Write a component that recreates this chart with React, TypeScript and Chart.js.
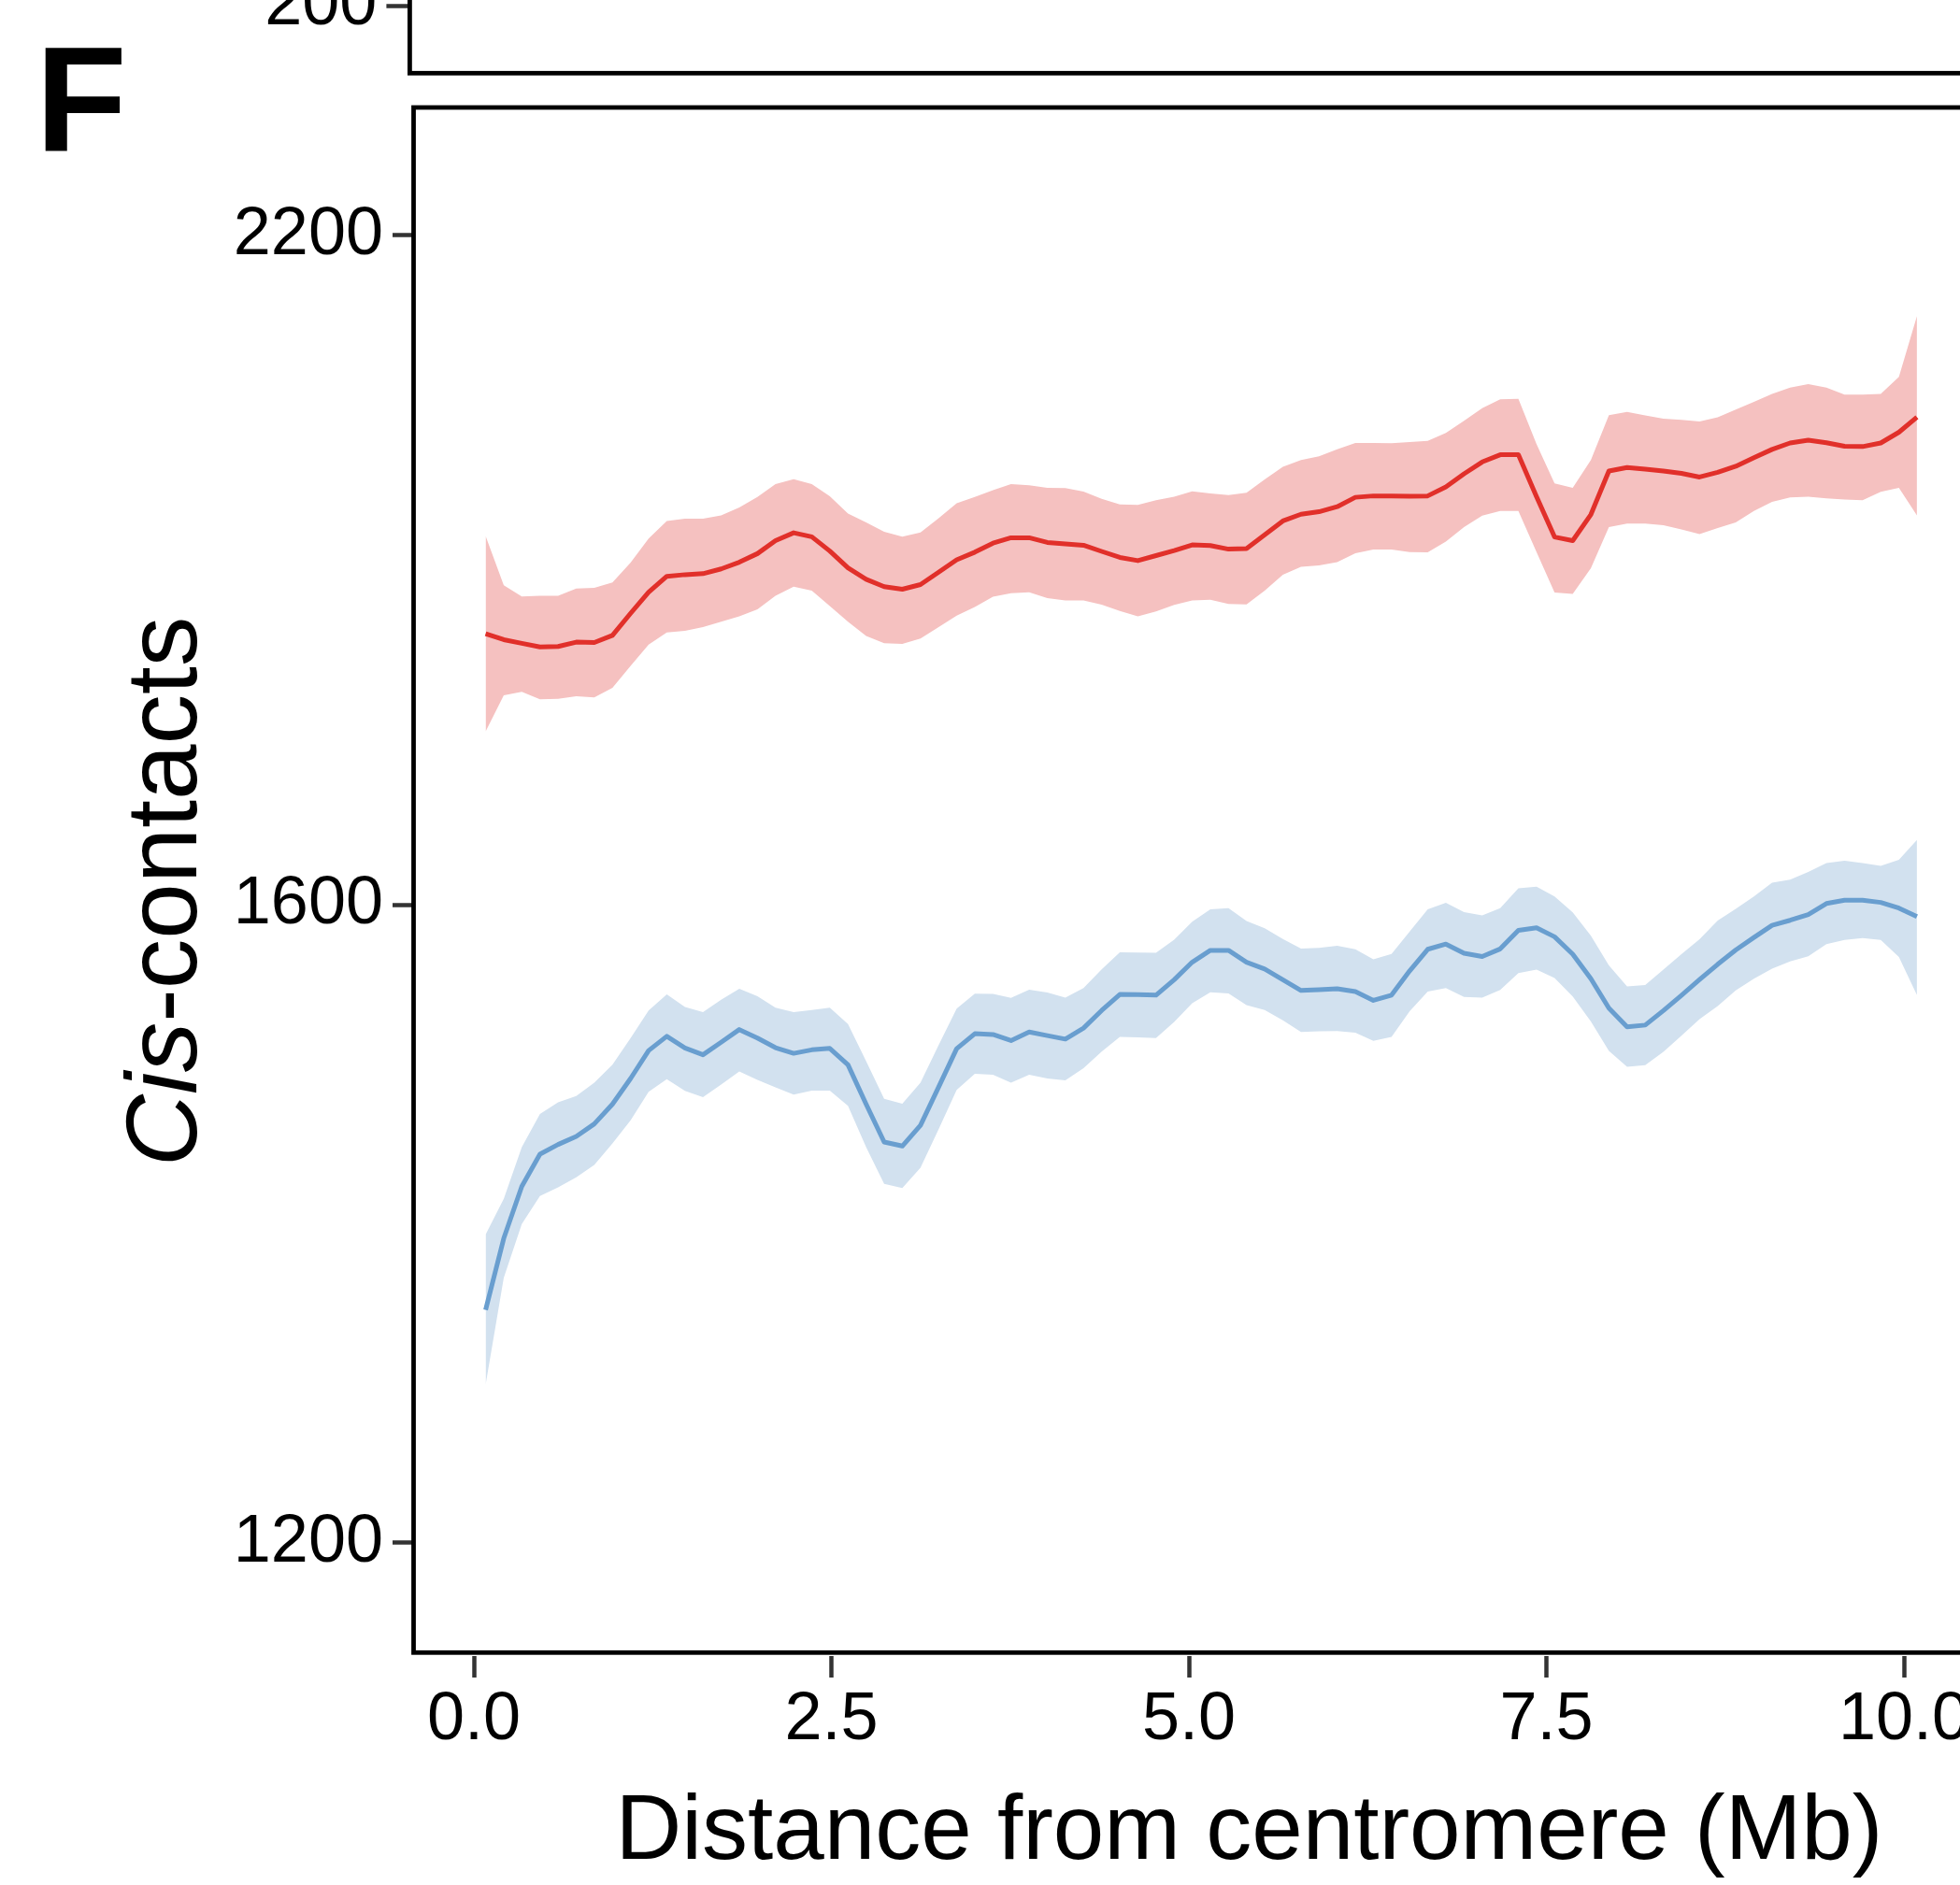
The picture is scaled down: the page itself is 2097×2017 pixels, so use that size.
import React, { useEffect, useRef } from 'react';
import { Chart, registerables, LinearScale } from 'chart.js';

Chart.register(...registerables);

// y axis of the reference is compressed towards the top: log10(v - 237)
const SHIFT = 237;
class ShiftedLogScale extends LinearScale {
  static id = 'shiftedLog';
  static defaults = {};
  tf(v: number) { return Math.log10(v - SHIFT); }
  getPixelForValue(value: number) {
    if (value === null || value === undefined || Number.isNaN(value)) return NaN;
    const a = this.tf(this.min);
    const b = this.tf(this.max);
    return this.getPixelForDecimal((this.tf(value) - a) / (b - a));
  }
  getValueForPixel(pixel: number) {
    const a = this.tf(this.min);
    const b = this.tf(this.max);
    return SHIFT + Math.pow(10, a + this.getDecimalForPixel(pixel) * (b - a));
  }
}
Chart.register(ShiftedLogScale as any);

const FONT = '"Liberation Sans", Arial, Helvetica, sans-serif';

const X_TICKS = [0, 2.5, 5, 7.5, 10];
const Y_TICKS = [1200, 1600, 2200];
const TOP_Y_TICKS = [200];

// bin positions (Mb from centromere)
const distance = [
  0.082, 0.209, 0.335, 0.462, 0.589, 0.716, 0.842, 0.969, 1.096, 1.222,
  1.349, 1.476, 1.602, 1.729, 1.856, 1.983, 2.109, 2.236, 2.363, 2.489,
  2.616, 2.743, 2.869, 2.996, 3.123, 3.250, 3.376, 3.503, 3.630, 3.756,
  3.883, 4.010, 4.136, 4.263, 4.390, 4.517, 4.643, 4.770, 4.897, 5.023,
  5.150, 5.277, 5.403, 5.530, 5.657, 5.784, 5.910, 6.037, 6.164, 6.290,
  6.417, 6.544, 6.670, 6.797, 6.924, 7.051, 7.177, 7.304, 7.431, 7.557,
  7.684, 7.811, 7.937, 8.064, 8.191, 8.318, 8.444, 8.571, 8.698, 8.824,
  8.951, 9.078, 9.204, 9.331, 9.458, 9.585, 9.711, 9.838, 9.965, 10.091,
];

const redMean = [
  1817.1, 1811.9, 1808.8, 1805.7, 1806.1, 1809.8, 1809.5, 1815.6, 1834.7, 1853.2,
  1867.2, 1868.7, 1869.6, 1873.8, 1879.8, 1887.5, 1899.2, 1906.3, 1902.7, 1889.8,
  1874.7, 1864.6, 1858.0, 1855.8, 1859.9, 1870.9, 1882.0, 1888.8, 1896.9, 1901.8,
  1901.8, 1897.6, 1896.3, 1895.0, 1889.5, 1884.1, 1881.2, 1885.7, 1890.2, 1895.3,
  1894.7, 1891.5, 1892.1, 1904.4, 1917.1, 1923.3, 1925.6, 1930.2, 1938.9, 1940.2,
  1940.2, 1939.9, 1940.2, 1948.5, 1960.8, 1972.0, 1978.8, 1978.8, 1939.5, 1902.5,
  1899.2, 1923.0, 1963.5, 1966.8, 1965.2, 1963.5, 1961.2, 1957.8, 1962.2, 1967.9,
  1976.1, 1983.9, 1990.0, 1992.7, 1990.3, 1986.9, 1986.6, 1990.0, 2000.3, 2014.8,
];
const redUpper = [
  1903.4, 1859.2, 1849.4, 1850.1, 1850.1, 1856.4, 1857.0, 1861.8, 1879.4, 1901.1,
  1917.1, 1919.3, 1919.3, 1922.3, 1929.6, 1939.2, 1951.2, 1955.8, 1951.2, 1939.9,
  1923.9, 1915.7, 1907.3, 1902.7, 1906.6, 1919.6, 1933.3, 1939.2, 1945.5, 1951.2,
  1950.2, 1947.8, 1947.5, 1944.2, 1937.5, 1932.3, 1931.9, 1936.2, 1939.5, 1944.5,
  1942.5, 1940.9, 1943.2, 1955.5, 1967.3, 1973.7, 1977.4, 1983.9, 1990.0, 1990.0,
  1989.7, 1991.0, 1992.1, 1999.6, 2011.3, 2023.5, 2032.2, 2032.6, 1989.0, 1951.8,
  1947.8, 1973.7, 2016.8, 2020.0, 2016.5, 2013.4, 2012.3, 2010.6, 2014.8, 2022.1,
  2029.8, 2037.4, 2043.7, 2047.2, 2043.7, 2036.7, 2036.7, 2037.4, 2054.3, 2115.5,
];
const redLower = [
  1735.0, 1765.0, 1767.8, 1761.7, 1762.0, 1764.2, 1763.2, 1771.1, 1789.6, 1807.6,
  1818.1, 1819.6, 1822.7, 1827.4, 1832.0, 1838.2, 1850.1, 1858.0, 1854.5, 1841.0,
  1827.4, 1815.0, 1808.8, 1808.2, 1812.8, 1822.7, 1832.6, 1840.3, 1849.1, 1852.3,
  1853.2, 1847.9, 1846.0, 1846.0, 1842.2, 1836.7, 1832.0, 1836.4, 1842.0, 1846.0,
  1846.6, 1842.8, 1842.5, 1854.5, 1868.7, 1875.7, 1877.0, 1879.9, 1887.9, 1891.1,
  1891.1, 1888.9, 1888.6, 1898.3, 1911.6, 1922.0, 1926.3, 1926.3, 1888.9, 1852.9,
  1851.7, 1874.4, 1911.6, 1914.8, 1914.8, 1913.2, 1909.3, 1905.1, 1910.6, 1915.8,
  1926.3, 1934.6, 1938.9, 1939.5, 1937.9, 1936.9, 1936.2, 1943.9, 1947.8, 1922.3,
];

const blueMean = [
  1330.2, 1373.7, 1406.3, 1427.0, 1433.3, 1438.6, 1446.8, 1459.9, 1477.1, 1496.1,
  1505.9, 1497.9, 1493.2, 1501.8, 1510.6, 1504.7, 1498.1, 1494.2, 1496.6, 1497.6,
  1486.4, 1459.9, 1434.9, 1432.3, 1445.9, 1471.4, 1497.4, 1507.7, 1507.2, 1503.0,
  1508.9, 1506.4, 1504.0, 1511.6, 1523.9, 1535.2, 1535.0, 1534.7, 1545.6, 1558.2,
  1566.7, 1566.7, 1558.2, 1553.3, 1545.6, 1538.0, 1538.5, 1539.2, 1537.2, 1531.0,
  1534.7, 1552.0, 1567.5, 1571.3, 1564.6, 1562.3, 1567.8, 1581.3, 1583.2, 1576.6,
  1564.0, 1546.4, 1525.5, 1512.5, 1513.7, 1523.8, 1534.5, 1545.7, 1556.7, 1567.0,
  1576.1, 1585.0, 1588.7, 1592.9, 1601.1, 1603.5, 1603.5, 1601.9, 1597.7, 1591.4,
];
const blueUpper = [
  1376.0, 1398.4, 1431.6, 1453.4, 1461.1, 1465.4, 1474.2, 1486.4, 1504.7, 1523.9,
  1535.2, 1526.4, 1522.7, 1531.4, 1539.2, 1533.9, 1525.9, 1522.7, 1524.2, 1525.9,
  1514.5, 1488.8, 1463.5, 1460.1, 1474.2, 1499.8, 1525.2, 1535.7, 1535.5, 1532.7,
  1538.5, 1536.5, 1533.0, 1539.7, 1553.1, 1565.4, 1565.2, 1564.9, 1574.4, 1587.6,
  1596.8, 1597.6, 1588.1, 1582.8, 1575.0, 1568.0, 1568.5, 1570.0, 1567.5, 1560.3,
  1564.1, 1580.5, 1596.8, 1601.6, 1594.7, 1592.3, 1597.7, 1612.5, 1613.6, 1606.4,
  1594.6, 1577.4, 1555.9, 1540.8, 1541.8, 1552.8, 1564.0, 1574.8, 1588.5, 1597.2,
  1606.4, 1616.6, 1619.0, 1624.7, 1631.5, 1633.2, 1631.5, 1629.4, 1634.0, 1649.2,
];
const blueLower = [
  1286.5, 1349.6, 1382.6, 1400.2, 1405.7, 1412.1, 1420.0, 1434.0, 1449.1, 1468.2,
  1476.6, 1468.7, 1464.6, 1473.0, 1481.9, 1476.1, 1471.1, 1466.3, 1469.0, 1469.0,
  1458.7, 1431.6, 1407.9, 1405.2, 1418.2, 1443.3, 1469.4, 1480.2, 1479.7, 1474.2,
  1479.7, 1477.1, 1475.9, 1484.0, 1495.4, 1505.5, 1505.2, 1504.7, 1515.9, 1528.9,
  1536.7, 1535.9, 1527.7, 1524.2, 1517.1, 1508.9, 1509.4, 1509.6, 1508.4, 1502.8,
  1505.5, 1523.4, 1537.2, 1539.7, 1533.5, 1533.0, 1538.3, 1550.3, 1552.8, 1546.9,
  1533.8, 1516.2, 1495.8, 1485.0, 1486.2, 1495.3, 1506.3, 1517.9, 1527.0, 1538.1,
  1546.4, 1553.6, 1558.8, 1562.4, 1571.2, 1574.3, 1575.6, 1574.3, 1561.9, 1534.7,
];

const RED = '#E1302A';
const RED_BAND = '#F5C1C0';
const BLUE = '#699ECF';
const BLUE_BAND = '#D2E1EF';
const TICK_COLOR = '#333333';

const pts = (ys: number[]) => distance.map((x, i) => ({ x, y: ys[i] }));

const framePlugin = {
  id: 'frame',
  afterDraw(chart: any) {
    const { ctx, chartArea } = chart;
    ctx.save();
    ctx.strokeStyle = '#000';
    ctx.lineWidth = 4.8;
    ctx.strokeRect(chartArea.left, chartArea.top, chartArea.right - chartArea.left, chartArea.bottom - chartArea.top);
    ctx.restore();
  },
};

const annotationPlugin = {
  id: 'annot',
  afterDraw(chart: any) {
    const { ctx } = chart;
    ctx.save();
    ctx.fillStyle = '#000';
    // panel letter
    ctx.font = `bold 160px ${FONT}`;
    ctx.textBaseline = 'alphabetic';
    ctx.textAlign = 'left';
    ctx.fillText('F', 38, 161);
    // y title with italic "Cis"
    const fi = `italic 107px ${FONT}`;
    const fr = `107px ${FONT}`;
    ctx.font = fi;
    const w1 = ctx.measureText('Cis').width;
    ctx.font = fr;
    const w2 = ctx.measureText('-contacts').width;
    ctx.translate(210, 954);
    ctx.rotate(-Math.PI / 2);
    const start = -(w1 + w2) / 2;
    ctx.font = fi;
    ctx.fillText('Cis', start, 0);
    ctx.font = fr;
    ctx.fillText('-contacts', start + w1, 0);
    ctx.restore();
  },
};

export default function App() {
  const mainRef = useRef<HTMLCanvasElement>(null);
  const topRef = useRef<HTMLCanvasElement>(null);

  useEffect(() => {
    const band = { pointRadius: 0, borderColor: 'rgba(0,0,0,0)', borderWidth: 1, tension: 0, order: 2 };
    const line = { pointRadius: 0, borderWidth: 5, tension: 0, fill: false, order: 0, borderJoinStyle: 'round' as const };
    const main = new Chart(mainRef.current!, {
      type: 'line',
      data: {
        datasets: [
          { ...band, label: 'red upper', data: pts(redUpper), fill: '+1', backgroundColor: RED_BAND },
          { ...band, label: 'red lower', data: pts(redLower), fill: false },
          { ...band, label: 'blue upper', data: pts(blueUpper), fill: '+1', backgroundColor: BLUE_BAND },
          { ...band, label: 'blue lower', data: pts(blueLower), fill: false },
          { ...line, label: 'red', data: pts(redMean), borderColor: RED },
          { ...line, label: 'blue', data: pts(blueMean), borderColor: BLUE },
        ] as any,
      },
      options: {
        responsive: false,
        animation: false,
        devicePixelRatio: 1,
        layout: { padding: { left: 0, top: 115, right: 29.5, bottom: 0 } },
        plugins: { legend: { display: false }, tooltip: { enabled: false } },
        scales: {
          x: {
            type: 'linear',
            min: -0.4216,
            max: 11.2647,
            afterBuildTicks: (s: any) => { s.ticks = X_TICKS.map((v) => ({ value: v })); },
            afterFit: (s: any) => { s.height = 248.7; },
            ticks: {
              autoSkip: false, maxRotation: 0, minRotation: 0, padding: 2.5,
              color: '#000', font: { family: FONT, size: 72 },
              callback: (v: any) => Number(v).toFixed(1),
            },
            grid: { display: true, drawOnChartArea: false, drawTicks: true, tickLength: 26.7, tickColor: TICK_COLOR, tickWidth: 4.5 },
            border: { display: true, width: 8, color: 'rgba(0,0,0,0)' },
            title: {
              display: true, text: 'Distance from centromere (Mb)', color: '#000',
              font: { family: FONT, size: 98 }, padding: { top: 0, bottom: -4 },
            },
          },
          y: {
            type: 'shiftedLog' as any,
            min: 1144.1,
            max: 2341.5,
            afterBuildTicks: (s: any) => { s.ticks = Y_TICKS.map((v) => ({ value: v })); },
            afterFit: (s: any) => { s.width = 442.5; },
            ticks: {
              autoSkip: false, padding: 10, color: '#000', font: { family: FONT, size: 72 },
              callback: (v: any) => String(v),
            },
            grid: { display: true, drawOnChartArea: false, drawTicks: true, tickLength: 22.5, tickColor: TICK_COLOR, tickWidth: 4.5 },
            border: { display: false },
          } as any,
        },
      },
      plugins: [framePlugin, annotationPlugin],
    });

    // fragment of the panel above (only its bottom edge is in view)
    const top = new Chart(topRef.current!, {
      type: 'line',
      data: { datasets: [] },
      options: {
        responsive: false,
        animation: false,
        devicePixelRatio: 1,
        layout: { padding: { left: 0, top: 60, right: 34, bottom: 60.7 } },
        plugins: { legend: { display: false }, tooltip: { enabled: false } },
        scales: {
          x: { type: 'linear', display: false, min: 0, max: 1 },
          y: {
            type: 'linear',
            min: 159,
            max: 282.9,
            afterBuildTicks: (s: any) => { s.ticks = TOP_Y_TICKS.map((v) => ({ value: v })); },
            afterFit: (s: any) => { s.width = 438.4; },
            ticks: { autoSkip: false, padding: 10, color: '#000', font: { family: FONT, size: 72 } },
            grid: { display: true, drawOnChartArea: false, drawTicks: true, tickLength: 25, tickColor: TICK_COLOR, tickWidth: 4.5 },
            border: { display: false },
          },
        },
      },
      plugins: [framePlugin],
    });

    return () => { main.destroy(); top.destroy(); };
  }, []);

  return (
    <div style={{ position: 'fixed', left: 0, top: 0, width: 2097, height: 2017, overflow: 'hidden', background: '#fff' }}>
      <canvas ref={mainRef} width={2260} height={2017} style={{ position: 'absolute', left: 0, top: 0, width: 2260, height: 2017 }} />
      <canvas ref={topRef} width={2260} height={339} style={{ position: 'absolute', left: 0, top: -200, width: 2260, height: 339 }} />
    </div>
  );
}
